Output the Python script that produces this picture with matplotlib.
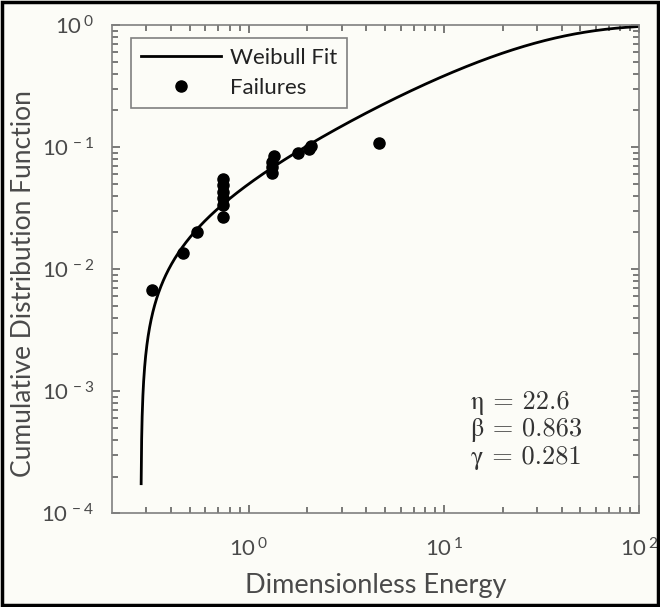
import numpy as np
import matplotlib
matplotlib.use("Agg")
import matplotlib.pyplot as plt
from matplotlib.ticker import FixedLocator, FuncFormatter, NullFormatter
from matplotlib.patches import Rectangle

# ---- data ----
failure_energy = [0.322, 0.463, 0.546,
                  0.744, 0.744, 0.744, 0.744, 0.744, 0.744,
                  1.324, 1.324, 1.324, 1.356,
                  1.787, 2.03, 2.08, 4.67]
failure_cdf = [0.00675, 0.0135, 0.0203,
               0.0269, 0.0335, 0.0380, 0.0431, 0.0489, 0.0545,
               0.0617, 0.0683, 0.0759, 0.0845,
               0.090, 0.097, 0.103, 0.1086]

# Weibull fit parameters shown on the chart
eta = 22.6
beta = 0.863
gamma = 0.281
fit_x_start = 0.282
fit_x_end = 100.0

x_limits = [0.2, 100]
y_limits = [1e-4, 1]
x_major = [1, 10, 100]
y_major = [1e-4, 1e-3, 1e-2, 1e-1, 1]

plt.rcParams['font.family'] = ['Lato', 'DejaVu Sans']
plt.rcParams['mathtext.fontset'] = 'custom'
plt.rcParams['mathtext.rm'] = 'Lato'
plt.rcParams['mathtext.it'] = 'Lato'

bg = '#fcfcf7'
txt = '#4a4a4a'
spine_c = '#808080'
fig = plt.figure(figsize=(6.6, 6.07), dpi=100, facecolor=bg)
ax = fig.add_axes([0.1697, 0.1544, 0.7989, 0.8044], facecolor=bg)

fit_x = np.logspace(np.log10(fit_x_start), np.log10(fit_x_end), 2000)
fit_y = 1 - np.exp(-((fit_x - gamma) / eta) ** beta)
ax.plot(fit_x, fit_y, color='black', lw=2.0, label='Weibull Fit', zorder=2)
ax.plot(failure_energy, failure_cdf, 'o', color='black', ms=8,
        label='Failures', zorder=3, linestyle='none')

ax.set_xscale('log')
ax.set_yscale('log')
ax.set_xlim(*x_limits)
ax.set_ylim(*y_limits)

def minor_positions(lo, hi):
    out = []
    for d in range(int(np.floor(np.log10(lo))), int(np.ceil(np.log10(hi)))):
        for m in range(2, 10):
            v = m * 10.0 ** d
            if lo < v < hi:
                out.append(v)
    return out

def fmt(v, pos):
    e = int(round(np.log10(v)))
    return r'$\mathregular{10^{\,%d}}$' % e

ax.xaxis.set_major_locator(FixedLocator(x_major))
ax.yaxis.set_major_locator(FixedLocator(y_major))
ax.xaxis.set_minor_locator(FixedLocator(minor_positions(*x_limits)))
ax.yaxis.set_minor_locator(FixedLocator(minor_positions(*y_limits)))
ax.xaxis.set_major_formatter(FuncFormatter(fmt))
ax.yaxis.set_major_formatter(FuncFormatter(fmt))
ax.xaxis.set_minor_formatter(NullFormatter())
ax.yaxis.set_minor_formatter(NullFormatter())

ax.tick_params(which='both', direction='in', top=True, right=True,
               colors='#555555', labelcolor=txt, labelsize=16, width=1.1)
ax.tick_params(which='major', length=6)
ax.tick_params(axis='x', which='major', pad=17)
ax.tick_params(axis='y', which='major', pad=13)
ax.tick_params(which='minor', length=4)
for s in ax.spines.values():
    s.set_color(spine_c)
    s.set_linewidth(1.2)

ax.set_xlabel('Dimensionless Energy', fontsize=19.5, color=txt, labelpad=9)
ax.set_ylabel('Cumulative Distribution Function', fontsize=19, color=txt)
ax.yaxis.set_label_coords(-0.145, 0.47)

leg = ax.legend(loc='upper left', fontsize=16, frameon=True, fancybox=False,
                handlelength=3.6, handletextpad=0.4, borderpad=0.45,
                labelspacing=0.45, borderaxespad=0,
                bbox_to_anchor=(0.0355, 0.9734))
leg.get_frame().set_edgecolor(spine_c)
leg.get_frame().set_linewidth(1.2)
leg.get_frame().set_facecolor(bg)
leg.get_frame().set_alpha(1)
for t in leg.get_texts():
    t.set_color('#222222')

ax.text(0.68, 0.17, '\u03b7 = 22.6\n\u03b2 = 0.863\n\u03b3 = 0.281',
        transform=ax.transAxes, fontsize=19, color='#333333',
        family=['cmr10', 'STIXGeneral'], va='center', ha='left', linespacing=1.15)

fig.patches.append(Rectangle((0.003, 0.003), 0.994, 0.994, transform=fig.transFigure,
                             fill=False, edgecolor='black', lw=2.5))

fig.savefig('out.png', dpi=100, facecolor=bg)
